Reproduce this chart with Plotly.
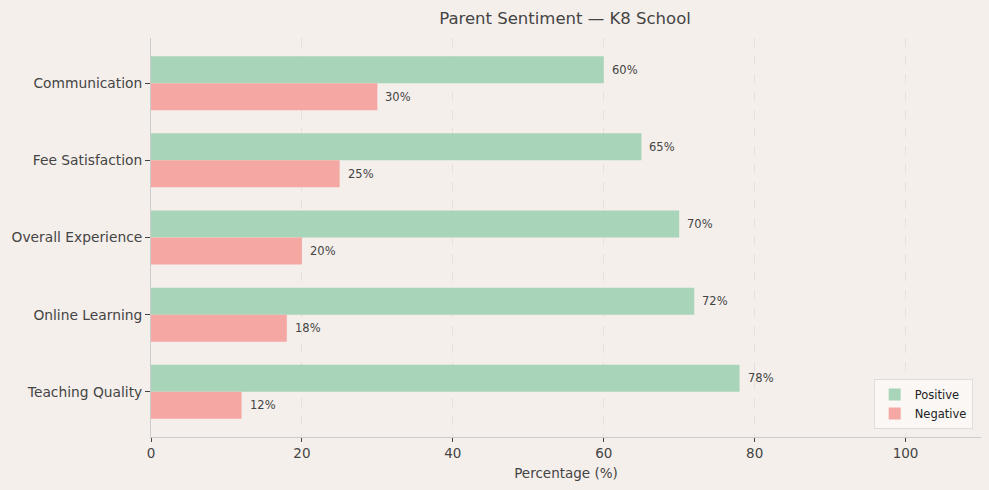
import plotly.graph_objects as go

categories = ["Teaching Quality", "Online Learning", "Overall Experience", "Fee Satisfaction", "Communication"]
positive = [78, 72, 70, 65, 60]
negative = [12, 18, 20, 25, 30]
x_ticks = [0, 20, 40, 60, 80, 100]

BG = "#f4efeb"
GREEN = "#a8d5ba"
PINK = "#f5a7a3"
TXT = "#444444"
FONT = "DejaVu Sans"

ypos = list(range(len(categories)))
h = 0.35

fig = go.Figure()
fig.add_trace(go.Bar(
    y=ypos, x=positive, orientation="h", name="Positive",
    marker=dict(color=GREEN, line=dict(width=0)),
    width=h, offset=0,
))
fig.add_trace(go.Bar(
    y=ypos, x=negative, orientation="h", name="Negative",
    marker=dict(color=PINK, line=dict(width=0)),
    width=h, offset=-h,
))

for yi, v in zip(ypos, positive):
    fig.add_annotation(x=v, y=yi + h / 2, text=f"{v}%", showarrow=False,
                       xanchor="left", yanchor="middle", xshift=6,
                       font=dict(size=11.5, color=TXT, family=FONT))
for yi, v in zip(ypos, negative):
    fig.add_annotation(x=v, y=yi - h / 2, text=f"{v}%", showarrow=False,
                       xanchor="left", yanchor="middle", xshift=6,
                       font=dict(size=11.5, color=TXT, family=FONT))

fig.update_layout(
    width=989, height=490,
    paper_bgcolor=BG, plot_bgcolor=BG,
    margin=dict(l=151, r=8, t=38, b=53),
    font=dict(family=FONT, color=TXT, size=13),
    title=dict(text="Parent Sentiment — K8 School", x=0.5713, xanchor="center",
               y=0.962, yanchor="middle", font=dict(size=16.5, color=TXT)),
    barmode="overlay",
    showlegend=True,
    legend=dict(x=0.99, y=0.02, xanchor="right", yanchor="bottom",
                bgcolor="rgba(250,248,246,0.85)", bordercolor="#dddddd", borderwidth=1,
                font=dict(size=11.5, color="#222222"), traceorder="normal",
                itemwidth=30),
    xaxis=dict(range=[0, 110], tickvals=x_ticks, showgrid=True,
               gridcolor="#e6e0db", griddash="dash", gridwidth=1,
               showline=True, linecolor="#cccccc", linewidth=1,
               ticks="outside", ticklen=4, tickcolor="#444444",
               zeroline=False, tickfont=dict(size=13.5, color=TXT),
               title=dict(text="Percentage (%)", font=dict(size=13.5, color=TXT), standoff=8)),
    yaxis=dict(range=[-0.585, 4.585], tickvals=ypos, ticktext=categories,
               showgrid=False, showline=True, linecolor="#cccccc", linewidth=1,
               ticks="outside", ticklen=5, tickcolor="#444444", zeroline=False,
               tickfont=dict(size=13.8, color=TXT)),
)

fig.write_html("out.html")
